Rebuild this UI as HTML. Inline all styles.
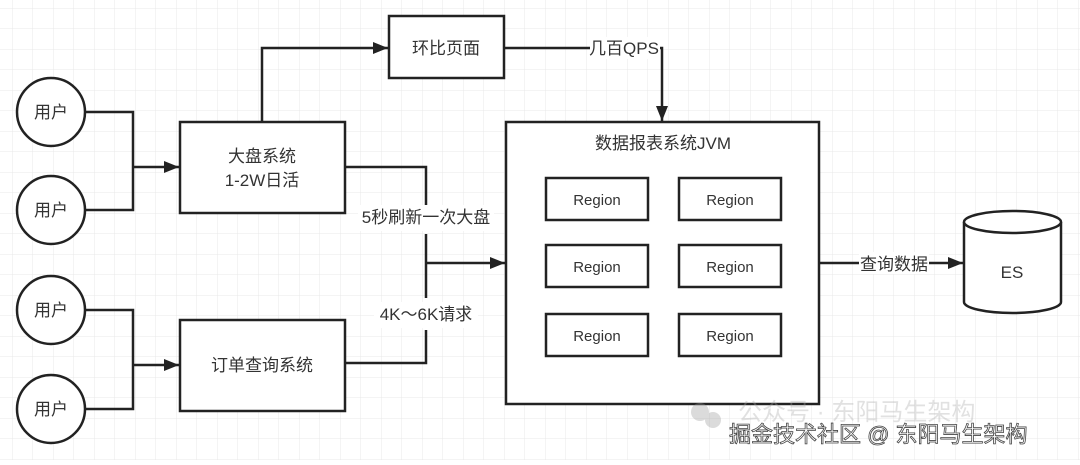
<!DOCTYPE html>
<html><head><meta charset="utf-8"><style>
html,body{margin:0;padding:0;background:#fff;}
svg text{font-family:"Liberation Sans","Noto Sans CJK SC",sans-serif;fill:#333;}
</style></head><body>
<svg width="1080" height="460" viewBox="0 0 1080 460" xmlns="http://www.w3.org/2000/svg">
<defs>
<pattern id="g" width="20.5" height="20.5" patternUnits="userSpaceOnUse" x="12" y="8">
<path d="M0 0H20.5M0 0V20.5" stroke="#e8e8e8" stroke-width="1" fill="none"/>
</pattern>
<marker id="a" markerWidth="16" markerHeight="14" refX="15" refY="6" orient="auto" markerUnits="userSpaceOnUse">
<path d="M0 0L15 6L0 12Z" fill="#222"/>
</marker>
</defs>
<rect width="1080" height="460" fill="url(#g)"/>
<g stroke="#222" stroke-width="2.5" fill="none">
<circle cx="51" cy="112" r="34" fill="#fff"/>
<circle cx="51" cy="210" r="34" fill="#fff"/>
<circle cx="51" cy="310" r="34" fill="#fff"/>
<circle cx="51" cy="409" r="34" fill="#fff"/>
<path d="M85 112H133V210H85M133 167H179" marker-end="url(#a)"/>
<path d="M85 310H133V409H85M133 365H179" marker-end="url(#a)"/>
<rect x="180" y="122" width="165" height="91" fill="#fff"/>
<rect x="180" y="320" width="165" height="91" fill="#fff"/>
<rect x="389" y="16" width="115" height="62" fill="#fff"/>
<path d="M262 122V48H388" marker-end="url(#a)"/>
<path d="M504 48H662V121" marker-end="url(#a)"/>
<path d="M345 167H426V205M426 234V263M345 363H426V330M426 263H505" marker-end="url(#a)"/>
<path d="M426 263V298"/>
<rect x="506" y="122" width="313" height="282" fill="#fff"/>
<rect x="546" y="178" width="102" height="42"/>
<rect x="679" y="178" width="102" height="42"/>
<rect x="546" y="245" width="102" height="42"/>
<rect x="679" y="245" width="102" height="42"/>
<rect x="546" y="314" width="102" height="42"/>
<rect x="679" y="314" width="102" height="42"/>
<path d="M820 263H963" marker-end="url(#a)"/>
<path d="M964 222V302A48.5 11 0 0 0 1061 302V222" fill="#fff"/>
<ellipse cx="1012.5" cy="222" rx="48.5" ry="11" fill="#fff"/>
</g>
<rect x="859" y="252" width="70" height="22" fill="#fff"/>
<rect x="590" y="37" width="70" height="22" fill="#fff"/>
<rect x="358" y="205" width="136" height="26" fill="#fff"/>
<rect x="374" y="302" width="104" height="26" fill="#fff"/>
<g font-size="17" text-anchor="middle">
<text x="51" y="118">用户</text><text x="51" y="216">用户</text>
<text x="51" y="316">用户</text><text x="51" y="415">用户</text>
<text x="262" y="162">大盘系统</text><text x="262" y="186">1-2W日活</text>
<text x="262" y="371">订单查询系统</text>
<text x="446" y="54">环比页面</text>
<text x="624" y="54">几百QPS</text>
<text x="426" y="223">5秒刷新一次大盘</text>
<text x="426" y="320">4K～6K请求</text>
<text x="663" y="149">数据报表系统JVM</text>
<text x="894" y="270">查询数据</text>
<text x="1012" y="278">ES</text>
</g>
<g font-size="15" text-anchor="middle">
<text x="597" y="205">Region</text><text x="730" y="205">Region</text>
<text x="597" y="272">Region</text><text x="730" y="272">Region</text>
<text x="597" y="341">Region</text><text x="730" y="341">Region</text>
</g>
<g opacity="0.35">
<circle cx="700" cy="412" r="9" fill="#999"/><circle cx="713" cy="420" r="8" fill="#999"/>
<text x="738" y="420" font-size="24" style="fill:#aaa">公众号 · 东阳马生架构</text>
</g>
<text x="729" y="442" font-size="22" style="fill:#fff;stroke:#444;stroke-width:0.8">掘金技术社区 @ 东阳马生架构</text>
</svg>
</body></html>
